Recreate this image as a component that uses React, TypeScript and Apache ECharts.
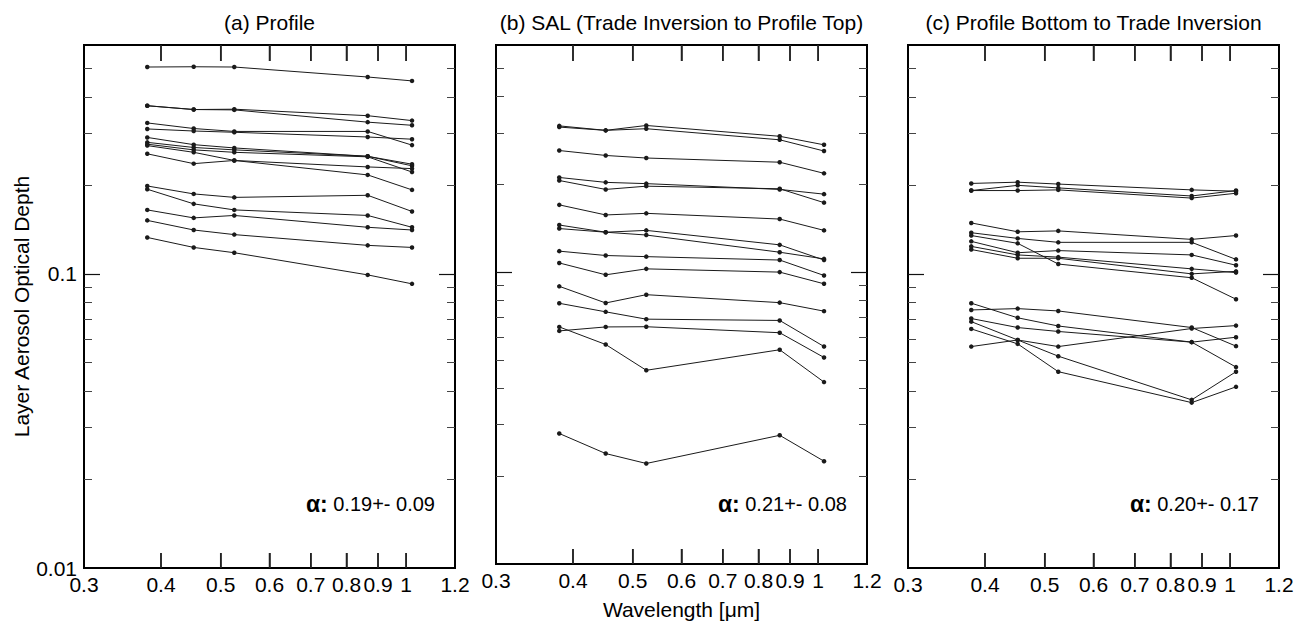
import React, { useEffect, useRef } from "react";
import * as echarts from "echarts";

// Wavelengths (µm) of the sun-photometer channels
const wavelengths = [0.38, 0.452, 0.526, 0.866, 1.022];

// (a) Profile: layer aerosol optical depth per profile
const profileTau = [
  [0.505, 0.506, 0.505, 0.467, 0.453],
  [0.373, 0.362, 0.363, 0.345, 0.332],
  [0.373, 0.362, 0.361, 0.328, 0.32],
  [0.326, 0.312, 0.305, 0.305, 0.274],
  [0.311, 0.306, 0.303, 0.292, 0.287],
  [0.291, 0.275, 0.268, 0.251, 0.233],
  [0.28, 0.269, 0.264, 0.251, 0.236],
  [0.276, 0.264, 0.259, 0.25, 0.222],
  [0.273, 0.259, 0.243, 0.217, 0.193],
  [0.256, 0.237, 0.243, 0.231, 0.228],
  [0.199, 0.187, 0.182, 0.185, 0.163],
  [0.194, 0.173, 0.165, 0.158, 0.144],
  [0.165, 0.155, 0.158, 0.144, 0.141],
  [0.152, 0.141, 0.136, 0.125, 0.123],
  [0.133, 0.123, 0.118, 0.0992, 0.0925],
];

// (b) SAL (Trade Inversion to Profile Top)
const salTau = [
  [0.317, 0.306, 0.318, 0.292, 0.273],
  [0.314, 0.306, 0.31, 0.284, 0.26],
  [0.261, 0.251, 0.246, 0.238, 0.218],
  [0.211, 0.203, 0.201, 0.192, 0.185],
  [0.206, 0.192, 0.197, 0.193, 0.173],
  [0.17, 0.157, 0.159, 0.152, 0.139],
  [0.145, 0.137, 0.139, 0.124, 0.11],
  [0.141, 0.137, 0.134, 0.117, 0.111],
  [0.118, 0.114, 0.113, 0.11, 0.0974],
  [0.1075, 0.0979, 0.1026, 0.1, 0.0912],
  [0.0894, 0.0784, 0.0837, 0.0786, 0.0735],
  [0.0782, 0.0731, 0.069, 0.0683, 0.0556],
  [0.0629, 0.0649, 0.065, 0.062, 0.051],
  [0.0649, 0.0565, 0.0461, 0.0542, 0.042],
  [0.028, 0.0239, 0.0221, 0.0276, 0.0225],
];

// (c) Profile Bottom to Trade Inversion
const bottomTau = [
  [0.203, 0.205, 0.202, 0.193, 0.191],
  [0.192, 0.2, 0.196, 0.184, 0.192],
  [0.192, 0.192, 0.193, 0.181, 0.188],
  [0.149, 0.139, 0.14, 0.131, 0.135],
  [0.138, 0.132, 0.128, 0.128, 0.112],
  [0.135, 0.127, 0.108, 0.097, 0.082],
  [0.129, 0.118, 0.12, 0.116, 0.107],
  [0.124, 0.116, 0.114, 0.104, 0.101],
  [0.121, 0.113, 0.113, 0.1, 0.102],
  [0.0795, 0.0709, 0.0665, 0.0586, 0.0482],
  [0.0754, 0.0762, 0.0748, 0.0657, 0.0568],
  [0.0705, 0.0657, 0.0637, 0.0586, 0.0609],
  [0.0688, 0.0596, 0.0525, 0.0373, 0.0465],
  [0.065, 0.0578, 0.0465, 0.0365, 0.0413],
  [0.0566, 0.0596, 0.0566, 0.0652, 0.0667],
];

const panelData = [profileTau, salTau, bottomTau];
const panelTitles = [
  "(a) Profile",
  "(b) SAL (Trade Inversion to Profile Top)",
  "(c) Profile Bottom to Trade Inversion",
];
const alphaMean = ["0.19", "0.21", "0.20"];
const alphaStd = ["0.09", "0.08", "0.17"];

const xRange = [0.3, 1.2];
const yRange = [0.01, 0.6];
const xTickLabels = [0.3, 0.4, 0.5, 0.6, 0.7, 0.8, 0.9, 1, 1.2];
const xTicks = [0.4, 0.5, 0.6, 0.7, 0.8, 0.9, 1];
const yMajorLabels = [0.01, 0.1];
const yMajorTicks = [0.1];
const yMinorTicks = [0.02, 0.03, 0.04, 0.05, 0.06, 0.07, 0.08, 0.09, 0.2, 0.3, 0.4, 0.5];

const xAxisName = "Wavelength [μm]";
const yAxisName = "Layer Aerosol Optical Depth";

const FONT = "'Liberation Sans', Arial, Helvetica, sans-serif";
const lg = (v: number) => Math.log10(v);
const fmt = (v: number) => String(parseFloat(Math.pow(10, v).toPrecision(6)));

const GRID_LEFT = [84, 496, 908];
const GRID_TOP = 45;
const GRID_W = 371;
const GRID_H = 523;
const X_TICK_LEN_BOTTOM = 15;
const X_TICK_LEN_TOP = 16;
const TICK_COLOR = "#222";

function buildOption() {
  const grid: any[] = [];
  const xAxis: any[] = [];
  const yAxis: any[] = [];
  const series: any[] = [];
  const title: any[] = [];

  panelData.forEach((lines, p) => {
    grid.push({
      left: GRID_LEFT[p],
      top: GRID_TOP,
      width: GRID_W,
      height: GRID_H,
      show: true,
      borderColor: "#000",
      borderWidth: 2,
    });

    // x: data axis (log), label/tick axes (value in log10 space)
    xAxis.push({
      type: "log",
      logBase: 10,
      gridIndex: p,
      min: xRange[0],
      max: xRange[1],
      show: false,
      axisLine: { onZero: false },
    });
    xAxis.push({
      type: "value",
      gridIndex: p,
      position: "bottom",
      min: lg(xRange[0]),
      max: lg(xRange[1]),
      axisLine: { show: false, onZero: false },
      splitLine: { show: false },
      axisTick: {
        show: true,
        inside: true,
        length: X_TICK_LEN_BOTTOM,
        customValues: xTicks.map(lg),
        lineStyle: { color: TICK_COLOR, width: 1.5 },
      },
      axisLabel: {
        show: true,
        customValues: xTickLabels.map(lg),
        formatter: fmt,
        margin: 6,
        fontSize: 21,
        color: "#000",
        fontFamily: FONT,
      },
      name: p === 1 ? xAxisName : undefined,
      nameLocation: "middle",
      nameGap: 35,
      nameTextStyle: { fontSize: 21, color: "#000", fontFamily: FONT },
    });
    xAxis.push({
      type: "value",
      gridIndex: p,
      position: "top",
      min: lg(xRange[0]),
      max: lg(xRange[1]),
      axisLine: { show: false, onZero: false },
      splitLine: { show: false },
      axisTick: {
        show: true,
        inside: true,
        length: X_TICK_LEN_TOP,
        customValues: xTicks.map(lg),
        lineStyle: { color: TICK_COLOR, width: 1.5 },
      },
      axisLabel: { show: false },
    });

    // y: data axis (log) + tick/label axes (value in log10 space)
    yAxis.push({
      type: "log",
      logBase: 10,
      gridIndex: p,
      min: yRange[0],
      max: yRange[1],
      show: false,
      axisLine: { onZero: false },
    });
    ["left", "right"].forEach((pos) => {
      const withLabels = p === 0 && pos === "left";
      yAxis.push({
        type: "value",
        gridIndex: p,
        position: pos,
        min: lg(yRange[0]),
        max: lg(yRange[1]),
        axisLine: { show: false, onZero: false },
        splitLine: { show: false },
        axisTick: {
          show: true,
          inside: true,
          length: 16,
          customValues: yMajorTicks.map(lg),
          lineStyle: { color: "#111", width: 1.2 },
        },
        axisLabel: withLabels
          ? {
              show: true,
              customValues: yMajorLabels.map(lg),
              formatter: fmt,
              margin: 7,
              fontSize: 21,
              color: "#000",
              fontFamily: FONT,
            }
          : { show: false },
        name: withLabels ? yAxisName : undefined,
        nameLocation: "middle",
        nameGap: 50,
        nameRotate: 90,
        nameTextStyle: { fontSize: 21, color: "#000", fontFamily: FONT },
      });
      yAxis.push({
        type: "value",
        gridIndex: p,
        position: pos,
        min: lg(yRange[0]),
        max: lg(yRange[1]),
        axisLine: { show: false, onZero: false },
        splitLine: { show: false },
        axisTick: {
          show: true,
          inside: true,
          length: 8,
          customValues: yMinorTicks.map(lg),
          lineStyle: { color: "#444", width: 1 },
        },
        axisLabel: { show: false },
      });
    });

    const xi = p * 3;
    const yi = p * 5;

    // x-axis tick marks on bottom and top edges, placed through the log scale
    series.push({
      type: "custom",
      name: `xticks-${p}`,
      xAxisIndex: xi,
      yAxisIndex: yi,
      silent: true,
      clip: false,
      z: 10,
      data: xTicks.map((v) => [v, yRange[0]]),
      encode: { x: 0, y: 1 },
      renderItem: (_params: any, api: any) => {
        const xv = api.value(0);
        const b = api.coord([xv, yRange[0]]);
        const t = api.coord([xv, yRange[1]]);
        const style = { stroke: TICK_COLOR, lineWidth: 1.5, fill: "none" };
        return {
          type: "group",
          children: [
            {
              type: "line",
              shape: { x1: b[0], y1: b[1], x2: b[0], y2: b[1] - X_TICK_LEN_BOTTOM },
              style,
            },
            {
              type: "line",
              shape: { x1: t[0], y1: t[1], x2: t[0], y2: t[1] + X_TICK_LEN_TOP },
              style,
            },
          ],
        };
      },
    });

    lines.forEach((vals, i) => {
      series.push({
        type: "line",
        name: `${p}-${i}`,
        xAxisIndex: xi,
        yAxisIndex: yi,
        data: wavelengths.map((w, k) => [w, vals[k]]),
        symbol: "circle",
        symbolSize: 4.5,
        showSymbol: true,
        silent: true,
        lineStyle: { color: "#1a1a1a", width: 1 },
        itemStyle: { color: "#1a1a1a" },
        emphasis: { disabled: true },
      });
    });

    const center = GRID_LEFT[p] + GRID_W / 2;
    title.push({
      text: panelTitles[p],
      left: center,
      top: 22,
      textAlign: "center",
      textVerticalAlign: "middle",
      padding: 0,
      textStyle: { fontSize: 21, fontWeight: "normal", color: "#000", fontFamily: FONT },
    });
    title.push({
      text: `{a|α:} ${alphaMean[p]}+- ${alphaStd[p]}`,
      left: GRID_LEFT[p] + GRID_W - 20,
      top: 504,
      textAlign: "right",
      textVerticalAlign: "middle",
      padding: 0,
      textStyle: {
        fontSize: 20,
        fontWeight: "normal",
        color: "#000",
        fontFamily: FONT,
        rich: {
          a: { fontSize: 23, fontWeight: "bold", color: "#000", fontFamily: FONT },
        },
      },
    });
  });

  return {
    animation: false,
    title,
    grid,
    xAxis,
    yAxis,
    series,
  };
}

export default function App() {
  const ref = useRef<HTMLDivElement>(null);
  useEffect(() => {
    if (!ref.current) return;
    const chart = echarts.init(ref.current, undefined, { renderer: "svg" });
    chart.setOption(buildOption() as any);
    return () => chart.dispose();
  }, []);
  return (
    <div
      ref={ref}
      style={{ position: "absolute", left: 0, top: 0, width: 1306, height: 625, background: "#fff" }}
    />
  );
}
